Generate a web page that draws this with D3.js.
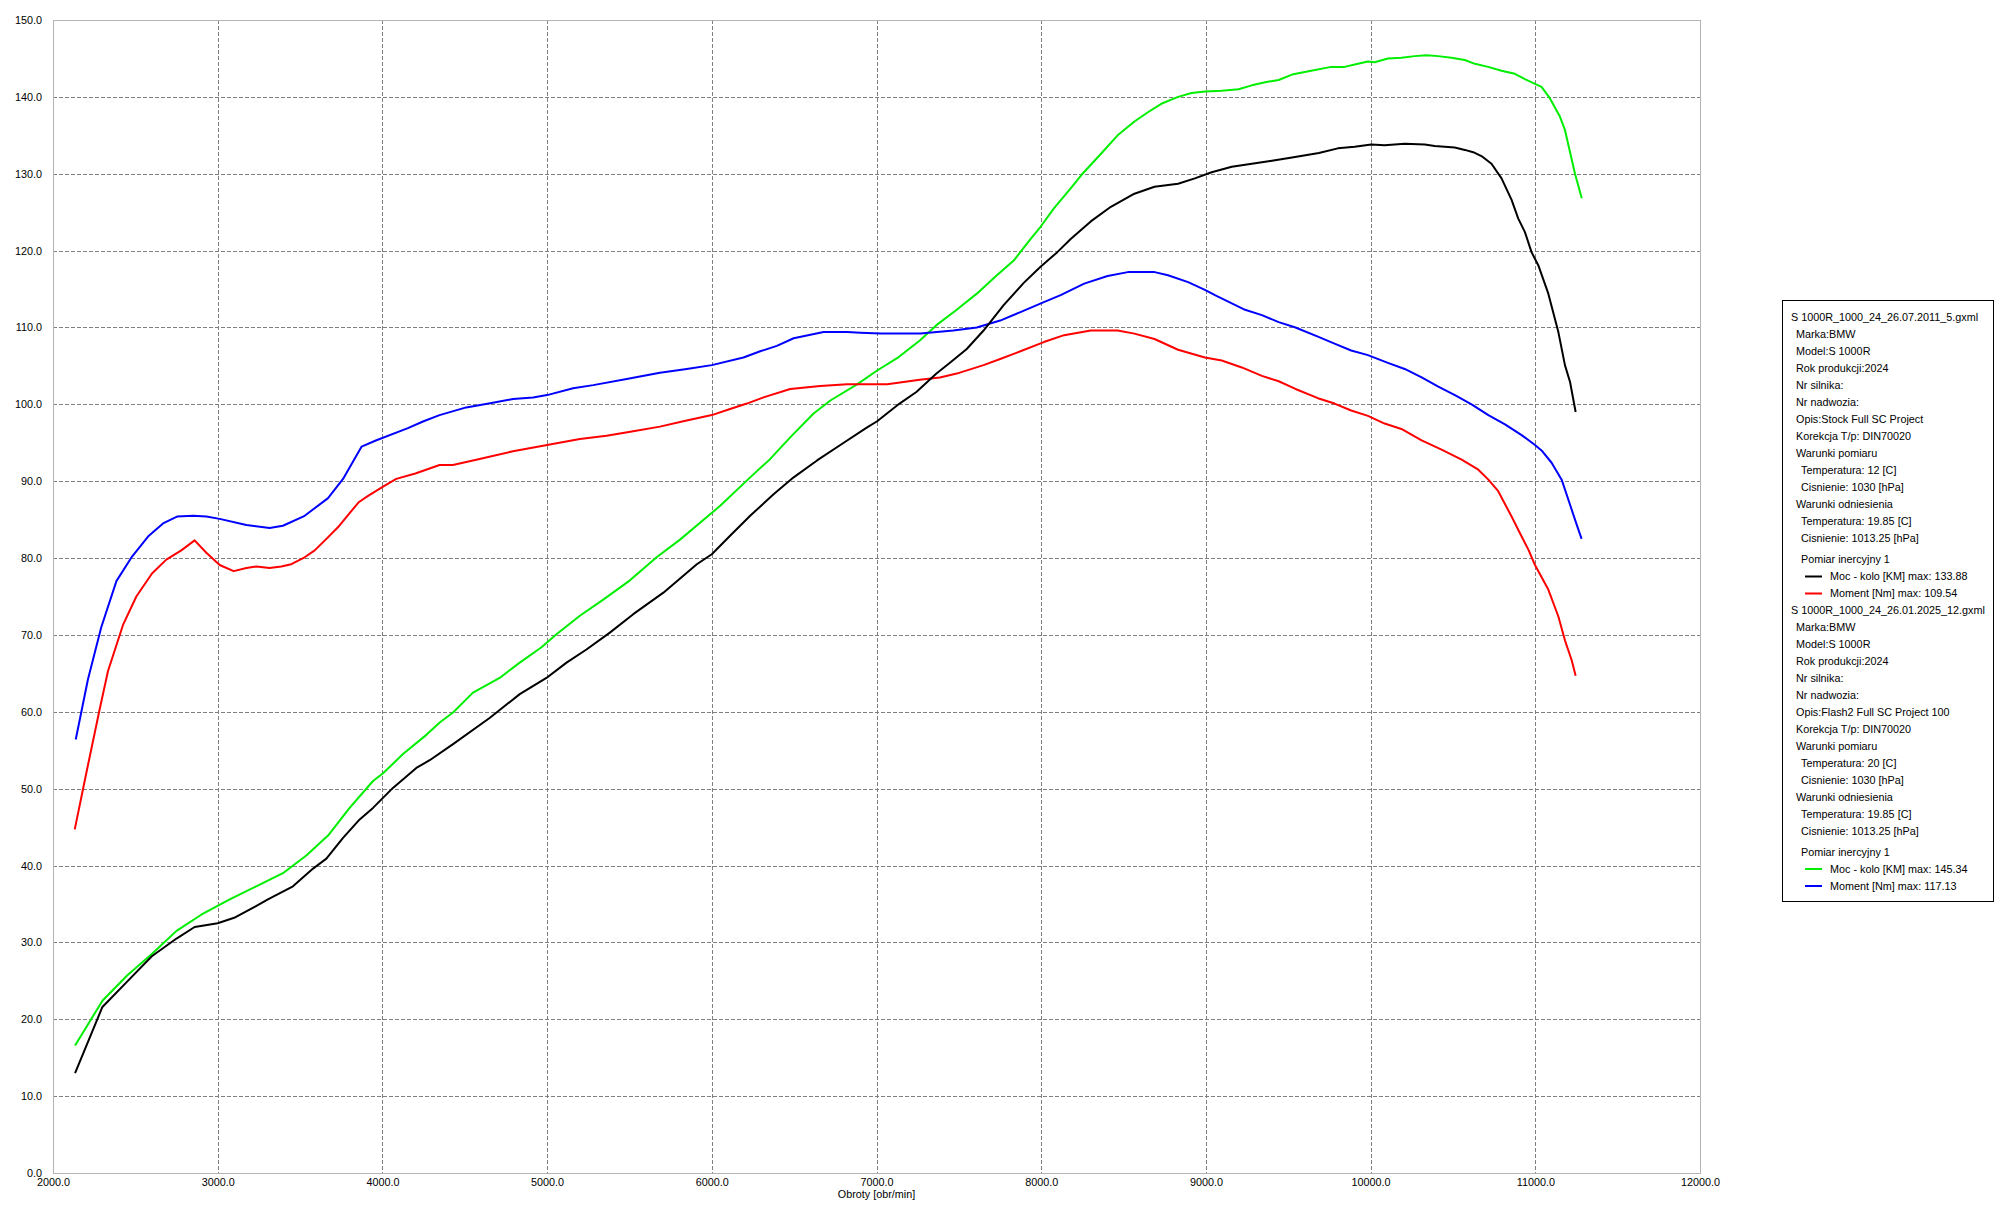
<!DOCTYPE html>
<html>
<head>
<meta charset="utf-8">
<script src="https://cdn.jsdelivr.net/npm/d3@7"></script>
<style>
  body { margin: 0; background: #fff; }
  text { font-family: "Liberation Sans", Arial, sans-serif; font-size: 10.8px; fill: #000; }
</style>
</head>
<body>
<script>
// --- data (rpm, value) ---
var stockPower = [
  [2134,13.0],[2300,21.6],[2450,24.9],[2600,28.2],[2750,30.5],[2860,32.0],[3000,32.5],[3100,33.2],
  [3230,34.7],[3305,35.6],[3457,37.3],[3579,39.6],[3660,40.9],[3761,43.6],[3862,46.0],[3943,47.5],
  [4064,50.1],[4206,52.7],[4287,53.7],[4429,55.8],[4651,59.2],[4834,62.3],[4996,64.4],[5118,66.4],
  [5239,68.1],[5381,70.3],[5523,72.7],[5706,75.5],[5909,79.2],[6000,80.5],[6111,82.9],[6233,85.5],
  [6375,88.3],[6497,90.5],[6639,92.7],[6801,95.0],[6943,97.0],[7004,97.8],[7140,100.1],[7242,101.6],
  [7364,104.0],[7446,105.4],[7548,107.2],[7650,109.6],[7772,112.9],[7894,115.8],[7996,117.9],[8098,119.8],
  [8179,121.5],[8301,123.8],[8423,125.7],[8566,127.4],[8688,128.3],[8831,128.7],[8933,129.4],[9035,130.2],
  [9157,130.9],[9279,131.3],[9401,131.7],[9523,132.1],[9686,132.7],[9801,133.3],[9903,133.5],[10004,133.8],
  [10085,133.7],[10207,133.9],[10329,133.8],[10389,133.6],[10511,133.4],[10572,133.1],[10623,132.8],
  [10673,132.3],[10734,131.3],[10795,129.4],[10856,126.6],[10896,124.2],[10937,122.4],[10977,119.8],
  [11018,118.1],[11079,114.4],[11140,109.4],[11180,105.1],[11211,102.9],[11245,99.0]
];
var stockTorque = [
  [2132,44.7],[2202,52.0],[2283,60.3],[2334,65.3],[2425,71.3],[2506,75.0],[2601,78.0],[2688,79.8],
  [2779,81.0],[2860,82.3],[2931,80.7],[3012,79.1],[3097,78.3],[3174,78.7],[3235,78.9],[3315,78.7],
  [3386,78.9],[3447,79.2],[3528,80.1],[3589,81.0],[3660,82.5],[3730,84.0],[3791,85.6],[3858,87.3],
  [3913,88.1],[4004,89.3],[4084,90.3],[4200,91.0],[4347,92.1],[4428,92.1],[4590,92.9],[4793,93.9],
  [5000,94.7],[5199,95.5],[5361,95.9],[5523,96.5],[5685,97.1],[5827,97.8],[6000,98.6],[6111,99.4],
  [6213,100.1],[6314,100.9],[6476,102.0],[6659,102.4],[6821,102.6],[7065,102.6],[7263,103.2],[7385,103.5],
  [7487,104.0],[7650,105.1],[7751,105.9],[7874,106.9],[8016,108.1],[8139,109.0],[8301,109.6],[8464,109.6],
  [8566,109.2],[8688,108.5],[8831,107.1],[8994,106.1],[9096,105.7],[9218,104.8],[9340,103.7],[9442,103.0],
  [9544,102.0],[9680,100.8],[9781,100.1],[9882,99.2],[9984,98.5],[10085,97.5],[10187,96.8],[10310,95.3],
  [10431,94.1],[10553,92.8],[10654,91.5],[10715,90.2],[10775,88.7],[10856,85.4],[10917,82.8],[10958,81.1],
  [10998,79.1],[11079,75.9],[11140,72.4],[11180,69.3],[11221,66.7],[11245,64.7]
];
var flashPower = [
  [2134,16.6],[2300,22.4],[2450,25.7],[2600,28.5],[2750,31.5],[2900,33.6],[3073,35.6],[3234,37.3],
  [3396,39.0],[3538,41.3],[3670,43.9],[3801,47.5],[3943,51.0],[4004,52.0],[4125,54.5],[4267,57.0],
  [4348,58.6],[4429,59.9],[4550,62.5],[4712,64.4],[4834,66.4],[4966,68.4],[5057,70.1],[5199,72.5],
  [5341,74.6],[5503,77.1],[5665,80.1],[5807,82.4],[5990,85.7],[6051,86.8],[6233,90.5],[6355,92.9],
  [6476,95.7],[6618,98.8],[6720,100.5],[6882,102.6],[7004,104.4],[7125,106.0],[7263,108.3],[7364,110.3],
  [7487,112.3],[7609,114.4],[7731,116.8],[7833,118.7],[7935,121.5],[7996,123.1],[8077,125.5],[8179,128.1],
  [8251,130.0],[8363,132.6],[8464,135.0],[8566,136.8],[8648,138.0],[8729,139.1],[8831,140.0],[8913,140.5],
  [8994,140.7],[9096,140.8],[9198,141.0],[9279,141.5],[9360,141.9],[9442,142.2],[9523,142.9],[9639,143.4],
  [9761,143.9],[9842,143.9],[9923,144.3],[9984,144.6],[10024,144.5],[10105,145.0],[10187,145.1],[10268,145.3],
  [10339,145.4],[10410,145.3],[10491,145.1],[10572,144.8],[10633,144.3],[10714,143.9],[10795,143.4],
  [10876,143.0],[10937,142.3],[10998,141.7],[11038,141.3],[11089,139.8],[11150,137.4],[11180,135.7],
  [11211,132.8],[11241,130.0],[11282,126.8]
];
var flashTorque = [
  [2138,56.4],[2212,64.2],[2293,71.0],[2385,77.0],[2480,80.2],[2577,82.8],[2668,84.5],[2753,85.4],
  [2850,85.5],[2931,85.4],[3012,85.1],[3174,84.3],[3315,83.9],[3396,84.2],[3528,85.5],[3670,87.8],
  [3761,90.3],[3874,94.5],[3960,95.3],[4155,96.9],[4250,97.8],[4347,98.6],[4509,99.6],[4671,100.2],
  [4793,100.7],[4915,100.9],[5000,101.2],[5158,102.1],[5280,102.5],[5483,103.3],[5685,104.1],[5848,104.6],
  [6000,105.1],[6192,106.1],[6294,106.9],[6395,107.6],[6497,108.6],[6679,109.4],[6821,109.4],[6902,109.3],
  [7024,109.2],[7267,109.2],[7466,109.6],[7609,110.0],[7751,110.9],[7874,112.0],[8016,113.3],[8118,114.2],
  [8261,115.7],[8403,116.7],[8526,117.2],[8689,117.2],[8770,116.8],[8892,115.9],[8994,114.9],[9055,114.2],
  [9238,112.3],[9340,111.6],[9442,110.7],[9544,110.0],[9680,108.8],[9781,107.9],[9882,107.0],[9984,106.4],
  [10105,105.4],[10207,104.6],[10310,103.5],[10411,102.3],[10512,101.2],[10613,100.0],[10715,98.6],
  [10816,97.4],[10917,96.0],[10998,94.7],[11038,94.0],[11099,92.4],[11160,90.2],[11210,87.0],[11241,85.0],
  [11281,82.5]
];

var xTicks = [2000, 3000, 4000, 5000, 6000, 7000, 8000, 9000, 10000, 11000, 12000];
var yTicks = [0, 10, 20, 30, 40, 50, 60, 70, 80, 90, 100, 110, 120, 130, 140, 150];

// legend text, one entry per line: [text, indent level, series colour or null]
var legendStock = [
  ["S 1000R_1000_24_26.07.2011_5.gxml", 0],
  ["Marka:BMW", 1], ["Model:S 1000R", 1], ["Rok produkcji:2024", 1], ["Nr silnika:", 1],
  ["Nr nadwozia:", 1], ["Opis:Stock Full SC Project", 1], ["Korekcja T/p: DIN70020", 1],
  ["Warunki pomiaru", 1], ["Temperatura: 12 [C]", 2], ["Cisnienie: 1030 [hPa]", 2],
  ["Warunki odniesienia", 1], ["Temperatura: 19.85 [C]", 2], ["Cisnienie: 1013.25 [hPa]", 2],
  ["Pomiar inercyjny 1", 2],
  ["Moc - kolo [KM] max: 133.88", 3, "#000000"], ["Moment [Nm] max: 109.54", 3, "#ff0000"]
];
var legendFlash = [
  ["S 1000R_1000_24_26.01.2025_12.gxml", 0],
  ["Marka:BMW", 1], ["Model:S 1000R", 1], ["Rok produkcji:2024", 1], ["Nr silnika:", 1],
  ["Nr nadwozia:", 1], ["Opis:Flash2 Full SC Project 100", 1], ["Korekcja T/p: DIN70020", 1],
  ["Warunki pomiaru", 1], ["Temperatura: 20 [C]", 2], ["Cisnienie: 1030 [hPa]", 2],
  ["Warunki odniesienia", 1], ["Temperatura: 19.85 [C]", 2], ["Cisnienie: 1013.25 [hPa]", 2],
  ["Pomiar inercyjny 1", 2],
  ["Moc - kolo [KM] max: 145.34", 3, "#00ee00"], ["Moment [Nm] max: 117.13", 3, "#0000ff"]
];

var width = 2000, height = 1217;
var plotLeft = 53, plotRight = 1700, plotTop = 20, plotBottom = 1173;

var svg = d3.select("body").append("svg")
    .attr("width", width)
    .attr("height", height);

var x = d3.scaleLinear().domain([2000, 12000]).range([plotLeft, plotRight]);
var y = d3.scaleLinear().domain([0, 150]).range([plotBottom, plotTop]);

// dashed grid
svg.append("g").selectAll("line")
    .data(yTicks.slice(1, -1))
    .enter().append("line")
    .attr("x1", plotLeft).attr("x2", plotRight)
    .attr("y1", function(d) { return Math.round(y(d)) + 0.5; })
    .attr("y2", function(d) { return Math.round(y(d)) + 0.5; })
    .attr("stroke", "#808080").attr("stroke-dasharray", "4,2");

svg.append("g").selectAll("line")
    .data(xTicks.slice(1, -1))
    .enter().append("line")
    .attr("y1", plotTop).attr("y2", plotBottom)
    .attr("x1", function(d) { return Math.round(x(d)) + 0.5; })
    .attr("x2", function(d) { return Math.round(x(d)) + 0.5; })
    .attr("stroke", "#808080").attr("stroke-dasharray", "4,2");

// frame
svg.append("rect")
    .attr("x", plotLeft + 0.5).attr("y", plotTop + 0.5)
    .attr("width", plotRight - plotLeft).attr("height", plotBottom - plotTop)
    .attr("fill", "none").attr("stroke", "#b4b4b4");

// axes (labels only)
var fmt = d3.format(".1f");
var xAxis = svg.append("g")
    .attr("transform", "translate(0," + plotBottom + ")")
    .call(d3.axisBottom(x).tickValues(xTicks).tickFormat(fmt).tickSize(0).tickPadding(5));
var yAxis = svg.append("g")
    .attr("transform", "translate(" + plotLeft + ",0)")
    .call(d3.axisLeft(y).tickValues(yTicks).tickFormat(fmt).tickSize(0).tickPadding(11));
xAxis.select(".domain").remove();
yAxis.select(".domain").remove();
svg.selectAll(".tick text").attr("font-family", null).attr("font-size", null).attr("fill", "#000");
yAxis.attr("font-family", null).attr("font-size", null);
xAxis.attr("font-family", null).attr("font-size", null);

svg.append("text")
    .attr("x", (plotLeft + plotRight) / 2)
    .attr("y", 1198)
    .attr("text-anchor", "middle")
    .text("Obroty [obr/min]");

// curves
var line = d3.line()
    .x(function(d) { return x(d[0]); })
    .y(function(d) { return y(d[1]); });

var series = [
  { data: flashPower, color: "#00ee00" },
  { data: flashTorque, color: "#0000ff" },
  { data: stockTorque, color: "#ff0000" },
  { data: stockPower, color: "#000000" }
];

svg.append("g").selectAll("path")
    .data(series)
    .enter().append("path")
    .attr("d", function(d) { return line(d.data); })
    .attr("fill", "none")
    .attr("stroke", function(d) { return d.color; })
    .attr("stroke-width", 2)
    .attr("stroke-linejoin", "round");

// legend box
var legend = svg.append("g");
legend.append("rect")
    .attr("x", 1782.5).attr("y", 300.5)
    .attr("width", 211).attr("height", 601)
    .attr("fill", "#fff").attr("stroke", "#000");

var indentX = [1791, 1796, 1801, 1830];
function legendBlock(lines, y0) {
    var yy = y0;
    lines.forEach(function(l) {
        if (l[0] === "Pomiar inercyjny 1") yy += 4;
        legend.append("text")
            .attr("x", indentX[l[1]])
            .attr("y", yy)
            .text(l[0]);
        if (l[2]) {
            legend.append("line")
                .attr("x1", 1805).attr("x2", 1822)
                .attr("y1", yy - 3.5).attr("y2", yy - 3.5)
                .attr("stroke", l[2]).attr("stroke-width", 2);
        }
        yy += 17;
    });
    return yy;
}
var nextY = legendBlock(legendStock, 321);
legendBlock(legendFlash, nextY - 0.5);
</script>
</body>
</html>
